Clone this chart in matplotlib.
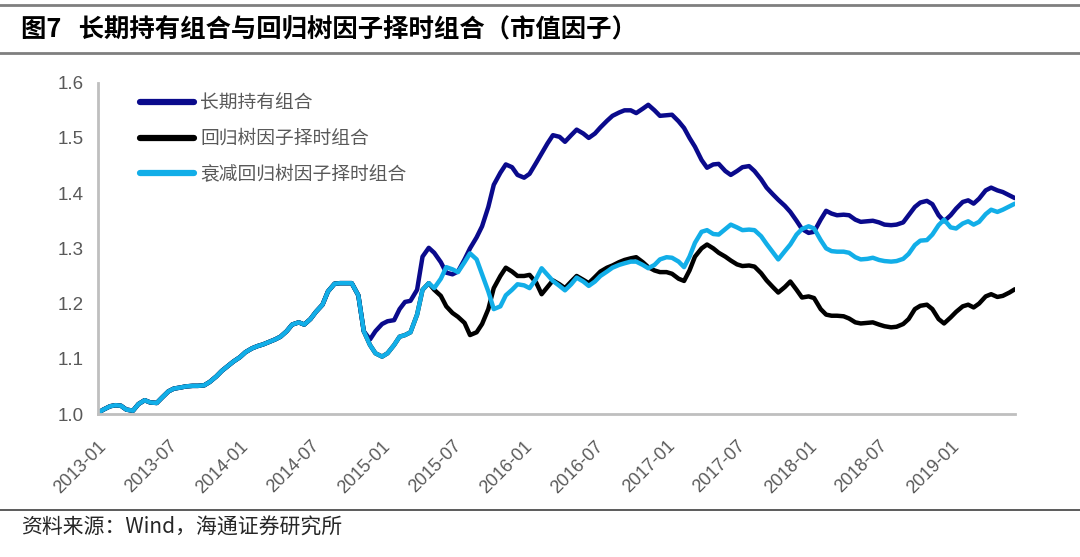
import pandas as pd
import matplotlib
matplotlib.use("Agg")
import matplotlib.pyplot as plt
from matplotlib.lines import Line2D

plt.rcParams['font.family'] = ['Liberation Sans', 'Noto Sans CJK SC']

# semi-monthly dates, 2013-01 .. 2019-06
dates = pd.date_range('2013-01-01', periods=156, freq='SMS')

# shared part (all three portfolios identical until end of 2014)
common = [1.002, 1.008, 1.014, 1.016, 1.015, 1.008, 1.006, 1.018, 1.025, 1.021,
          1.020, 1.030, 1.041, 1.046, 1.048, 1.050, 1.051, 1.051, 1.052, 1.058,
          1.068, 1.078, 1.087, 1.095, 1.103, 1.112, 1.119, 1.123, 1.126, 1.130,
          1.135, 1.140, 1.150, 1.162, 1.166, 1.162, 1.172, 1.185, 1.198, 1.222,
          1.236, 1.237, 1.237, 1.237, 1.215, 1.150]

decay_tail = [1.125, 1.110, 1.104, 1.110, 1.125, 1.140, 1.143, 1.148, 1.180, 1.225,
              1.237, 1.228, 1.245, 1.266, 1.262, 1.257, 1.275, 1.291, 1.280, 1.253,
              1.222, 1.190, 1.195, 1.215, 1.225, 1.235, 1.233, 1.228, 1.245, 1.264,
              1.252, 1.241, 1.232, 1.224, 1.235, 1.247, 1.240, 1.232, 1.240, 1.250,
              1.258, 1.265, 1.270, 1.273, 1.276, 1.276, 1.270, 1.264, 1.270, 1.280,
              1.284, 1.283, 1.276, 1.266, 1.285, 1.310, 1.330, 1.333, 1.326, 1.325,
              1.335, 1.343, 1.338, 1.333, 1.334, 1.333, 1.322, 1.308, 1.293, 1.280,
              1.295, 1.307, 1.325, 1.335, 1.340, 1.336, 1.315, 1.300, 1.295, 1.294,
              1.294, 1.292, 1.284, 1.280, 1.281, 1.283, 1.279, 1.277, 1.276, 1.277,
              1.281, 1.290, 1.306, 1.314, 1.315, 1.325, 1.342, 1.352, 1.338, 1.336,
              1.345, 1.349, 1.343, 1.348, 1.362, 1.370, 1.366, 1.370, 1.376, 1.381]

hold_tail = [1.135, 1.150, 1.163, 1.168, 1.170, 1.190, 1.203, 1.205, 1.225, 1.285,
             1.301, 1.292, 1.275, 1.256, 1.253, 1.258, 1.280, 1.300, 1.320, 1.340,
             1.375, 1.415, 1.437, 1.452, 1.447, 1.433, 1.428, 1.435, 1.455, 1.472,
             1.490, 1.505, 1.502, 1.493, 1.505, 1.515, 1.508, 1.500, 1.508, 1.519,
             1.531, 1.540, 1.546, 1.550, 1.550, 1.545, 1.553, 1.560, 1.550, 1.540,
             1.541, 1.542, 1.530, 1.518, 1.500, 1.484, 1.460, 1.446, 1.452, 1.453,
             1.440, 1.433, 1.440, 1.447, 1.449, 1.440, 1.425, 1.410, 1.398, 1.388,
             1.377, 1.366, 1.350, 1.335, 1.328, 1.330, 1.352, 1.368, 1.363, 1.360,
             1.361, 1.360, 1.352, 1.348, 1.349, 1.350, 1.347, 1.343, 1.342, 1.343,
             1.347, 1.360, 1.375, 1.383, 1.386, 1.380, 1.360, 1.349, 1.360, 1.372,
             1.384, 1.387, 1.381, 1.390, 1.405, 1.410, 1.405, 1.402, 1.396, 1.391]

# regression tree timing follows the decay series until mid-2015
tree_tail = [1.225, 1.214, 1.195, 1.183, 1.176, 1.165, 1.143, 1.148, 1.163, 1.190,
             1.228, 1.250, 1.265, 1.258, 1.250, 1.250, 1.252, 1.238, 1.217, 1.230,
             1.242, 1.235, 1.228, 1.240, 1.250, 1.243, 1.237, 1.248, 1.258, 1.265,
             1.269, 1.275, 1.279, 1.282, 1.284, 1.275, 1.266, 1.260, 1.257, 1.257,
             1.254, 1.245, 1.241, 1.260, 1.285, 1.300, 1.307, 1.300, 1.292, 1.285,
             1.278, 1.271, 1.268, 1.269, 1.267, 1.255, 1.242, 1.230, 1.220, 1.230,
             1.240, 1.225, 1.211, 1.213, 1.210, 1.190, 1.180, 1.178, 1.178, 1.177,
             1.173, 1.166, 1.164, 1.165, 1.166, 1.162, 1.159, 1.157, 1.158, 1.163,
             1.172, 1.190, 1.196, 1.198, 1.190, 1.172, 1.164, 1.175, 1.185, 1.195,
             1.198, 1.193, 1.200, 1.213, 1.217, 1.212, 1.214, 1.220, 1.226]

decay = common + decay_tail
hold = common + hold_tail
tree = decay[:57] + tree_tail

labels = ['长期持有组合', '回归树因子择时组合', '衰减回归树因子择时组合']
colors = ['#0a0a8c', '#000000', '#12aee8']
xtick_dates = pd.date_range('2013-01-01', '2019-01-01', freq='6MS')

fig = plt.figure(figsize=(10.8, 5.57), dpi=100)
ax = fig.add_axes([0.0907, 0.2567, 0.849, 0.5948])

ax.plot(dates, hold, color=colors[0], lw=3.2, solid_capstyle='round')
ax.plot(dates, tree, color=colors[1], lw=3.2, solid_capstyle='round')
ax.plot(dates, decay, color=colors[2], lw=3.2, solid_capstyle='round')

ax.set_xlim(dates[0], dates[-1])
ax.set_ylim(1.0, 1.6)
ax.set_yticks([1.0, 1.1, 1.2, 1.3, 1.4, 1.5, 1.6])
ax.set_yticklabels(['1.0', '1.1', '1.2', '1.3', '1.4', '1.5', '1.6'])
ax.set_xticks(xtick_dates)
ax.set_xticklabels([d.strftime('%Y-%m') for d in xtick_dates],
                   rotation=45, ha='right', rotation_mode='anchor')
ax.tick_params(axis='y', length=0, labelsize=13.5, colors='#595959', pad=10)
ax.tick_params(axis='x', length=0, labelsize=13, colors='#595959', pad=17)
for s in ['top', 'right']:
    ax.spines[s].set_visible(False)
for s in ['left', 'bottom']:
    ax.spines[s].set_color('#bfbfbf')
    ax.spines[s].set_linewidth(2)

handles = [Line2D([], [], color=c, lw=4.5, solid_capstyle='round') for c in colors]
leg = fig.legend(handles, labels, loc='upper left', bbox_to_anchor=(0.1296, 0.834),
                 frameon=False, handlelength=2.9, handletextpad=0.3,
                 labelspacing=0.78, borderpad=0, borderaxespad=0,
                 prop={'family': ['Noto Sans CJK SC'], 'size': 13.5})
for t in leg.get_texts():
    t.set_color('#595959')

# header and footer rules
fig.add_artist(Line2D([0, 1], [1 - 5 / 557, 1 - 5 / 557], color='#7f7f7f', lw=2))
fig.add_artist(Line2D([0, 1], [1 - 53 / 557, 1 - 53 / 557], color='#7f7f7f', lw=2))
fig.add_artist(Line2D([0, 1], [1 - 510 / 557, 1 - 510 / 557], color='#404040', lw=1.2))

fig.text(0.019, 1 - 30 / 557, '图7   长期持有组合与回归树因子择时组合（市值因子）',
         fontsize=18.3, fontweight='bold', va='center', ha='left',
         family=['Noto Sans CJK SC'])
fig.text(0.019, 1 - 528 / 557, '资料来源：Wind，海通证券研究所', fontsize=15,
         va='center', ha='left', color='#262626', family=['Noto Sans CJK SC'])

fig.savefig('out.png', dpi=100)
